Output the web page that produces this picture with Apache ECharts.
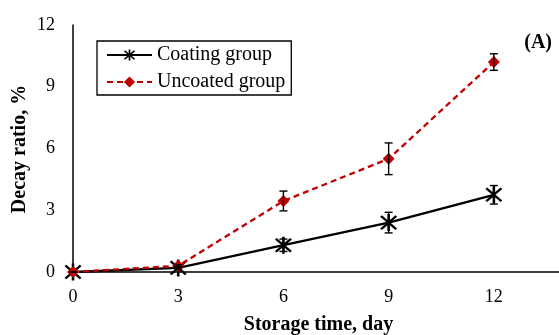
<!DOCTYPE html>
<html>
<head>
<meta charset="utf-8">
<script src="https://cdn.jsdelivr.net/npm/echarts@6/dist/echarts.min.js"></script>
<style>
  html, body { margin: 0; padding: 0; background: #fff; }
  #chart { width: 559px; height: 335px; }
</style>
</head>
<body>
<div id="chart"></div>
<script>
// Storage days and decay ratio (%) with standard deviations
const days = [0, 3, 6, 9, 12];
const coatingValues = [0, 0.2, 1.3, 2.4, 3.75];
const coatingErrors = [0, 0.05, 0.3, 0.5, 0.45];
const uncoatedValues = [0, 0.3, 3.45, 5.5, 10.2];
const uncoatedErrors = [0, 0.05, 0.48, 0.77, 0.4];
const yTicks = [0, 3, 6, 9, 12];

const FONT = '"Liberation Serif", "Times New Roman", serif';

// Asterisk marker: vertical bar plus two diagonal bars
const asterisk = 'path://M-1.3,-10L1.3,-10L1.3,10L-1.3,10Z' +
  'M-8.6,-6.8L-6.8,-8.6L8.6,6.8L6.8,8.6Z' +
  'M6.8,-8.6L8.6,-6.8L-6.8,8.6L-8.6,6.8Z';

function pairs(xs, ys) { return xs.map((x, i) => [x, ys[i]]); }
function errPairs(xs, ys, es) { return xs.map((x, i) => [x, ys[i] - es[i], ys[i] + es[i]]); }

function errorBarItem(params, api) {
  const x = api.value(0);
  const lo = api.coord([x, api.value(1)]);
  const hi = api.coord([x, api.value(2)]);
  const cap = 4;
  const style = { stroke: '#000', lineWidth: 1.4, fill: null };
  return {
    type: 'group',
    children: [
      { type: 'line', shape: { x1: lo[0], y1: lo[1], x2: hi[0], y2: hi[1] }, style },
      { type: 'line', shape: { x1: lo[0] - cap, y1: lo[1], x2: lo[0] + cap, y2: lo[1] }, style },
      { type: 'line', shape: { x1: hi[0] - cap, y1: hi[1], x2: hi[0] + cap, y2: hi[1] }, style }
    ]
  };
}

const chart = echarts.init(document.getElementById('chart'));
chart.setOption({
  animation: false,
  backgroundColor: '#fff',
  grid: { left: 73, right: -5, top: 25, bottom: 63, containLabel: false, outerBoundsMode: 'none' },
  title: {
    text: '(A)', right: 2, top: 28,
    textStyle: { fontFamily: FONT, fontSize: 20, fontWeight: 'bold', color: '#000' }
  },
  // Vertical y-axis title placed beside the axis
  graphic: [{
    type: 'text',
    x: 20, y: 149,
    rotation: Math.PI / 2,
    style: {
      text: 'Decay ratio, %',
      font: 'bold 20px ' + FONT,
      fill: '#000',
      align: 'center',
      verticalAlign: 'middle'
    }
  }],
  legend: {
    left: 97, top: 41,
    orient: 'vertical',
    itemWidth: 45, itemHeight: 14, itemGap: 7,
    padding: [4, 6, 3, 9],
    borderColor: '#000', borderWidth: 1.3,
    textStyle: { fontFamily: FONT, fontSize: 20, color: '#000' },
    data: ['Coating group', 'Uncoated group']
  },
  xAxis: {
    type: 'value', min: 0, max: 14, interval: 3,
    name: 'Storage time, day', nameLocation: 'middle', nameGap: 43,
    nameTextStyle: { fontFamily: FONT, fontSize: 20, fontWeight: 'bold', color: '#000' },
    axisLine: { lineStyle: { color: '#000', width: 1.5 } },
    axisTick: { show: false },
    splitLine: { show: false },
    axisLabel: { fontFamily: FONT, fontSize: 18, color: '#000', margin: 16, showMaxLabel: false }
  },
  yAxis: {
    type: 'value', min: yTicks[0], max: yTicks[yTicks.length - 1], interval: 3,
    axisLine: { show: true, lineStyle: { color: '#000', width: 1.5 } },
    axisTick: { show: false },
    splitLine: { show: false },
    axisLabel: { fontFamily: FONT, fontSize: 18, color: '#000', margin: 18 }
  },
  series: [
    {
      name: 'Coating group', type: 'line',
      data: pairs(days, coatingValues),
      symbol: asterisk, symbolSize: 17,
      itemStyle: { color: '#000' },
      lineStyle: { color: '#000', width: 2.3 },
      z: 3
    },
    {
      name: 'Uncoated group', type: 'line',
      data: pairs(days, uncoatedValues),
      symbol: 'diamond', symbolSize: 12,
      itemStyle: { color: '#C00000' },
      lineStyle: { color: '#C00000', width: 2.3, type: [6, 4] },
      z: 4
    },
    {
      type: 'custom', renderItem: errorBarItem,
      data: errPairs(days, coatingValues, coatingErrors), z: 5, silent: true
    },
    {
      type: 'custom', renderItem: errorBarItem,
      data: errPairs(days, uncoatedValues, uncoatedErrors), z: 5, silent: true
    }
  ]
});
</script>
</body>
</html>
